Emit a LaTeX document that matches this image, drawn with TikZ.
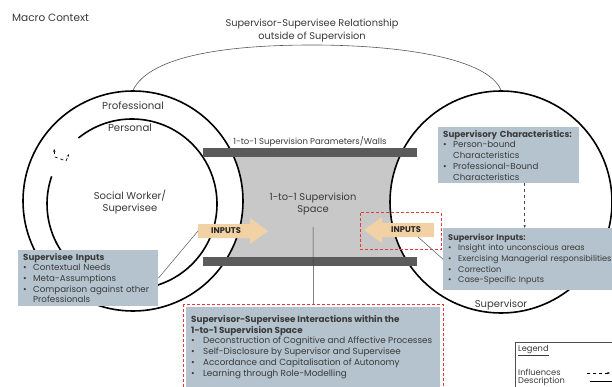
\documentclass[tikz,border=0pt]{standalone}
\usepackage{fontspec}
\setmainfont{Poppins}
\usetikzlibrary{arrows.meta}
\definecolor{boxblue}{HTML}{B4C3CD}
\definecolor{spacegrey}{HTML}{C8C8C8}
\definecolor{wallgrey}{HTML}{5B5B5B}
\definecolor{inputtan}{HTML}{F2D2A4}
\definecolor{framered}{HTML}{E63A3A}
\definecolor{inktext}{HTML}{3A3A3A}
\newcommand{\bul}{\makebox[10pt][l]{\textbullet}}
\newcommand{\cont}{\hspace*{10pt}}
\begin{document}
\begin{tikzpicture}[x=1pt,y=-1pt,
  txt/.style={inner sep=0pt, text=inktext, font=\fontsize{10}{12}\selectfont},
  ring/.style={circle, draw=black, line width=1.6pt, fill=white, minimum size=#1, inner sep=0pt},
  wall/.style={fill=wallgrey, draw=none, minimum height=9pt, minimum width=214pt, inner sep=0pt},
  arrowbody/.style={fill=inputtan, draw=none},
  arrowtext/.style={inner sep=0pt, text=black!85, font=\fontsize{8.3}{10}\selectfont\bfseries},
  infobox/.style={fill=boxblue, inner xsep=5pt, inner ysep=3pt, anchor=north west, align=left,
    text=inktext, font=\fontsize{8.7}{10.7}\selectfont},
  reddash/.style={draw=framered, dash pattern=on 3pt off 2pt, line width=1pt, inner sep=0pt},
  link/.style={draw=gray!70!black, line width=0.5pt},
  legendtext/.style={inner sep=0pt, anchor=west, text=inktext, font=\fontsize{8.3}{10}\selectfont},
]
\useasboundingbox (0,0) rectangle (612,387);
\clip (0,0) rectangle (612,387);
\fill[white] (0,0) rectangle (612,387);

% supervision space between the two walls
\fill[spacegrey] (200,157) rectangle (420,257);

% the two participants
\node[ring=220] (professional) at (133,201) {};
\node[ring=222] (supervisor) at (501,202) {};
% personal ring with its opening
\draw[line width=1.6pt] (132,204) ++(-129:85) arc[start angle=-129, end angle=199, radius=85];
\draw[dashed, line width=0.7pt, {Stealth[length=3pt]}-{Stealth[length=3pt]}]
  (54,149) -- (55,157) -- (66,161) -- (69,154);

% walls
\node[wall] (wallTop) at (310,152.5) {};
\node[wall] (wallBottom) at (310,261) {};

% labels
\node[txt, anchor=west, font=\fontsize{10.5}{12}\selectfont] (macro) at (12,18) {Macro Context};
\node[txt, align=center, font=\fontsize{9.8}{13}\selectfont] (relation) at (312,31)
  {Supervisor-Supervisee Relationship\\outside of Supervision};
\coordinate (relApex) at (312,45);
\draw[link, line width=0.6pt] (professional.north) .. controls (150,55) and (230,45) .. (relApex)
  .. controls (400,45) and (488,58) .. (supervisor.north);
\node[txt, font=\fontsize{10.2}{12}\selectfont] (profLabel) at (133,106) {Professional};
\node[txt, font=\fontsize{10.2}{12}\selectfont] (persLabel) at (130,128) {Personal};
\node[txt, align=center, font=\fontsize{10}{11.8}\selectfont] (worker) at (130,202) {Social Worker/\\Supervisee};
\node[txt, font=\fontsize{8.5}{10}\selectfont] (wallLabel) at (310,142) {1-to-1 Supervision Parameters/Walls};
\node[txt, align=center, font=\fontsize{9.9}{12}\selectfont] (space) at (313,204) {1-to-1 Supervision\\Space};
\node[txt] (supLabel) at (501,305) {Supervisor};

% inputs flowing into the space
\fill[arrowbody] (198,224) -- (250,224) -- (250,218) -- (268,231) -- (250,244) -- (250,238) -- (198,238) -- cycle;
\node[arrowtext] (inLtext) at (226,231) {INPUTS};
\coordinate (inLtail) at (198,231);
\fill[arrowbody] (434,223) -- (382,223) -- (382,217) -- (364,230) -- (382,243) -- (382,237) -- (434,237) -- cycle;
\node[arrowtext] (inRtext) at (406,230) {INPUTS};
\coordinate (inRfoot) at (418,237);

% descriptions
\node[infobox, text width=130pt, minimum height=53pt] (svIn) at (18,250)
  {\textbf{Supervisee Inputs}\\
   \bul Contextual Needs\\
   \bul Meta-Assumptions\\
   \bul Comparison against other\\
   \cont Professionals};
\node[infobox, text width=131pt, minimum height=56pt] (supChar) at (438,127)
  {\textbf{Supervisory Characteristics:}\\
   \bul Person-bound\\
   \cont Characteristics\\
   \bul Professional-Bound\\
   \cont Characteristics};
\node[infobox, text width=200pt, minimum height=62pt, font=\fontsize{8.2}{10.7}\selectfont] (supIn) at (443,228)
  {\textbf{Supervisor Inputs:}\\
   \bul Insight into unconscious areas\\
   \bul Exercising Managerial responsibilities\\
   \bul Correction\\
   \bul Case-Specific Inputs};
\node[fill=boxblue, anchor=north west, minimum width=254pt, minimum height=90pt, inner sep=0pt] (interact) at (186,307) {};
\node[anchor=north west, align=left, inner sep=0pt, text=inktext, font=\fontsize{8.8}{10.8}\selectfont]
  (interactText) at (191,315)
  {\textbf{Supervisor-Supervisee Interactions within the}\\
   \textbf{1-to-1 Supervision Space}\\
   \makebox[12pt][l]{\textbullet}Deconstruction of Cognitive and Affective Processes\\
   \makebox[12pt][l]{\textbullet}Self-Disclosure by Supervisor and Supervisee\\
   \makebox[12pt][l]{\textbullet}Accordance and Capitalisation of Autonomy\\
   \makebox[12pt][l]{\textbullet}Learning through Role-Modelling};

% red dashed frames on top
\node[reddash, minimum width=81pt, minimum height=37pt] (inFrame) at (400.5,231) {};
\node[reddash, anchor=north west, minimum width=260pt, minimum height=96pt] (interactFrame) at (183,304) {};

% connectors
\draw[link] (svIn.east) -- (inLtail);
\draw[link] (supIn.west) -- (inRfoot);
\coordinate (spaceFoot) at (313,227);
\draw[link, draw=black!75] (spaceFoot) -- (interactFrame.north);
\draw[dashed, line width=0.8pt, draw=black!70, -{Stealth[length=3pt]}]
  ([xshift=16pt]supChar.south) -- ([xshift=16pt]supChar.south |- supIn.north);

% legend
\node[draw=black!70, fill=white, line width=0.5pt, anchor=north west, minimum width=110pt,
  minimum height=60pt, inner sep=0pt] (legend) at (515,342) {};
\node[legendtext] (legTitle) at (518,351) {\underline{Legend}};
\node[legendtext] (legInf) at (518,372) {Influences};
\node[legendtext] (legDesc) at (518,381) {Description};
\coordinate (infA) at (587,373);
\coordinate (infB) at (610,373);
\draw[dashed, line width=0.7pt, -{Stealth[length=3pt]}] (infA) -- (infB);
\coordinate (descA) at (590,381);
\coordinate (descB) at (612,381);
\draw[line width=0.5pt] (descA) -- (descB);
\end{tikzpicture}
\end{document}
